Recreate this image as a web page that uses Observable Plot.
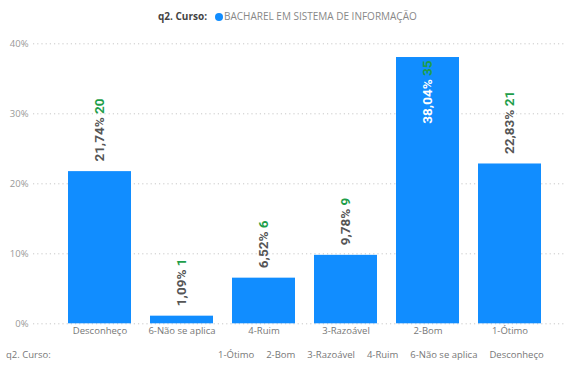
<!DOCTYPE html>
<html>
<head>
<meta charset="utf-8">
<script src="https://cdn.jsdelivr.net/npm/d3@7"></script>
<script src="https://cdn.jsdelivr.net/npm/@observablehq/plot@0.6"></script>
<style>
  html, body { margin: 0; padding: 0; background: #fff; }
  body { width: 569px; height: 367px; position: relative; overflow: hidden; font-family: "Open Sans", sans-serif; }
  #legendTop { position: absolute; left: 158px; top: 8px; height: 16px; line-height: 16px; font-size: 10px; white-space: nowrap; }
  #legendTop .t { color: #444; font-weight: 700; margin-right: 8px; }
  #legendTop .dot { display: inline-block; width: 8px; height: 8px; border-radius: 50%; background: #118DFF; vertical-align: -1px; margin-right: 1px; }
  #legendTop .s { color: #888; }
  #chart { position: absolute; left: 0; top: 30px; }
  #legendBottom { position: absolute; left: 0; top: 348px; width: 569px; height: 14px; line-height: 14px; font-size: 9.5px; color: #777; white-space: nowrap; }
  #legendBottom .t { position: absolute; left: 6px; }
  #legendBottom .items { position: absolute; left: 218px; }
  #legendBottom .items span { margin-right: 12px; }
</style>
</head>
<body>
<div id="legendTop"></div>
<div id="chart"></div>
<div id="legendBottom"></div>
<script>
const categories = ["Desconheço", "6-Não se aplica", "4-Ruim", "3-Razoável", "2-Bom", "1-Ótimo"];
const percents = [21.74, 1.09, 6.52, 9.78, 38.04, 22.83];
const counts = [20, 1, 6, 9, 35, 21];
const yTicks = [0, 10, 20, 30, 40];
const legendTitle = "q2. Curso:";
const seriesName = "BACHAREL EM SISTEMA DE INFORMAÇÃO";
const sortOrder = ["1-Ótimo", "2-Bom", "3-Razoável", "4-Ruim", "6-Não se aplica", "Desconheço"];

const fmtPct = v => v.toFixed(2).replace(".", ",") + "%";
const data = categories.map((c, i) => ({
  cat: c, pct: percents[i], n: counts[i],
  label: fmtPct(percents[i]) + " " + counts[i],
  inside: percents[i] > 35
}));

// top legend
const legTop = document.getElementById("legendTop");
legTop.innerHTML = `<span class="t"></span><span class="dot"></span><span class="s"></span>`;
legTop.querySelector(".t").textContent = legendTitle;
legTop.querySelector(".s").textContent = seriesName;

// bottom line
const legBottom = document.getElementById("legendBottom");
const bt = document.createElement("span"); bt.className = "t"; bt.textContent = legendTitle; legBottom.appendChild(bt);
const items = document.createElement("span"); items.className = "items";
sortOrder.forEach(s => { const sp = document.createElement("span"); sp.textContent = s; items.appendChild(sp); });
legBottom.appendChild(items);

const chart = Plot.plot({
  width: 569,
  height: 318,
  marginLeft: 33,
  marginRight: 3,
  marginTop: 13.3,
  marginBottom: 24.7,
  style: { fontFamily: "'Open Sans', sans-serif", fontSize: "9.5px", background: "transparent" },
  x: { type: "band", domain: categories, range: [58.6, 550.6], paddingInner: 0.23, paddingOuter: 0.115, label: null },
  y: { domain: [0, 40], label: null },
  marks: [
    Plot.ruleY(yTicks, { stroke: "#c8c8c8", strokeDasharray: "1.2,3", strokeWidth: 1 }),
    Plot.axisY({ ticks: yTicks, tickFormat: d => d + "%", tickSize: 0, tickPadding: 5, color: "#999", label: null }),
    Plot.axisX({ tickSize: 0, tickPadding: 3, color: "#777", label: null }),
    Plot.barY(data, { x: "cat", y: "pct", fill: "#118DFF" }),
    Plot.text(data.filter(d => !d.inside), {
      x: "cat", y: "pct", text: "label", rotate: -90, textAnchor: "start", dy: -10,
      fill: "#555", fontWeight: "bold", fontSize: 13.5, fontFamily: "Roboto, sans-serif", className: "lbl-out"
    }),
    Plot.text(data.filter(d => d.inside), {
      x: "cat", y: "pct", text: "label", rotate: -90, textAnchor: "end", dy: 3,
      fill: "#fff", fontWeight: "bold", fontSize: 13.5, fontFamily: "Roboto, sans-serif", className: "lbl-in"
    })
  ]
});
document.getElementById("chart").appendChild(chart);

// color the count part of each data label green
d3.select(chart).selectAll(".lbl-out text, .lbl-in text").each(function () {
  const t = this.textContent;
  const k = t.lastIndexOf(" ");
  const pctPart = t.slice(0, k), cntPart = t.slice(k);
  const el = d3.select(this);
  el.text(null);
  el.append("tspan").text(pctPart);
  el.append("tspan").attr("fill", "#1E9E4A").text(cntPart);
});
</script>
</body>
</html>
